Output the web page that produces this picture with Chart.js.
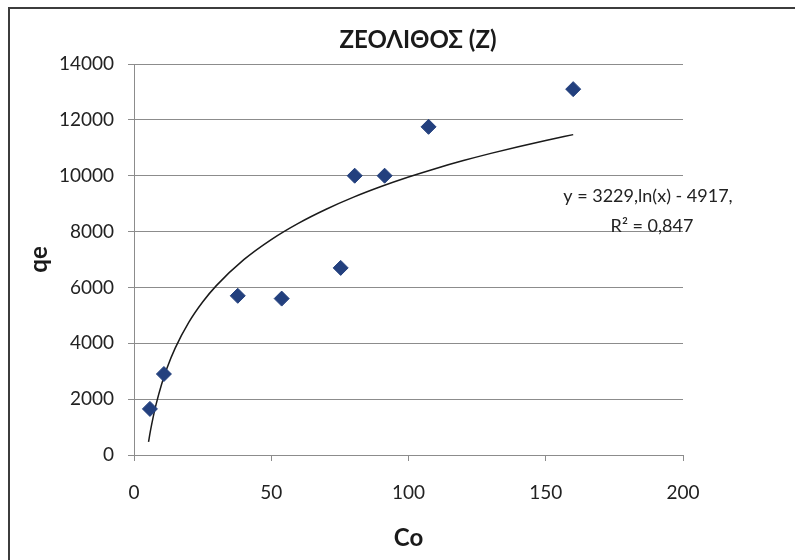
<!DOCTYPE html>
<html>
<head>
<meta charset="utf-8">
<script src="https://cdn.jsdelivr.net/npm/chart.js@4/dist/chart.umd.min.js"></script>
<style>
    html, body { margin: 0; padding: 0; background: #fff; }
    #wrap { width: 795px; height: 560px; position: relative; }
</style>
</head>
<body>
<div id="wrap"><canvas id="zeoChart"></canvas></div>
<script>
// μετρήσεις (Co, qe)
const coValues = [5.8, 10.9, 37.8, 53.8, 75.3, 80.4, 91.3, 107.3, 160];
const qeValues = [1650, 2900, 5700, 5600, 6700, 10000, 10000, 11750, 13100];

// γραμμή τάσης (σημεία όπως διαβάζονται στο γράφημα)
const trendX = [5.3, 6, 7, 8, 10, 12, 15, 20, 25, 30, 40, 50, 60, 70, 80, 90, 100, 110, 120, 130, 140, 150, 160];
const trendY = [468, 869, 1366, 1797, 2518, 3107, 3827, 4756, 5477, 6065, 6994, 7715, 8304, 8801, 9233, 9613, 9953, 10261, 10542, 10800, 11040, 11262, 11471];

const xTicks = [0, 50, 100, 150, 200];
const yTicks = [0, 2000, 4000, 6000, 8000, 10000, 12000, 14000];
const chartTitle = "ΖΕΟΛΙΘΟΣ (Ζ)";
const eqLines = ["y = 3229,ln(x) - 4917,", "R² = 0,847"];

const FONT = "Lato, 'Open Sans', sans-serif";

const toPoints = (xs, ys) => xs.map((x, i) => ({ x: x, y: ys[i] }));

// πλαίσιο, τίτλος και εξίσωση
const extras = {
    id: "extras",
    beforeDraw(chart) {
        const ctx = chart.ctx;
        ctx.save();
        ctx.fillStyle = "#fff";
        ctx.fillRect(0, 0, chart.width, chart.height);
        ctx.strokeStyle = "#3c3c3c";
        ctx.lineWidth = 2;
        ctx.beginPath();
        ctx.moveTo(9, chart.height);
        ctx.lineTo(9, 8);
        ctx.lineTo(chart.width, 8);
        ctx.stroke();
        ctx.restore();
    },
    afterDraw(chart) {
        const ctx = chart.ctx;
        ctx.save();
        ctx.fillStyle = "#1a1a1a";
        ctx.textAlign = "center";
        ctx.textBaseline = "middle";
        ctx.font = "bold 24px " + FONT;
        ctx.fillText(chartTitle, 418, 40);
        ctx.fillStyle = "#222";
        ctx.font = "18px " + FONT;
        ctx.fillText(eqLines[0], 648, 196);
        ctx.fillText(eqLines[1], 652, 226);
        ctx.restore();
    },
};

const el = document.getElementById("zeoChart");
new Chart(el, {
    type: "scatter",
    data: {
        datasets: [
            {
                label: "qe",
                data: toPoints(coValues, qeValues),
                pointStyle: "rectRot",
                pointRadius: 7.5,
                pointHoverRadius: 7.5,
                backgroundColor: "#23407e",
                borderColor: "#23407e",
                borderWidth: 1,
            },
            {
                label: "trend",
                type: "line",
                data: toPoints(trendX, trendY),
                showLine: true,
                pointRadius: 0,
                borderColor: "#1a1a1a",
                borderWidth: 1.5,
                cubicInterpolationMode: "monotone",
                fill: false,
            },
        ],
    },
    options: {
        responsive: true,
        maintainAspectRatio: false,
        animation: false,
        layout: { padding: { top: 64, right: 112, bottom: 0, left: 25 } },
        plugins: {
            legend: { display: false },
            tooltip: { enabled: false },
            title: { display: false },
        },
        scales: {
            x: {
                type: "linear",
                min: 0,
                max: 200,
                afterBuildTicks: (s) => { s.ticks = xTicks.map((v) => ({ value: v })); },
                afterFit: (s) => { s.height = 105; },
                ticks: {
                    color: "#222",
                    font: { family: FONT, size: 19 },
                    padding: 20,
                    callback: (v) => String(v),
                },
                grid: {
                    drawOnChartArea: false,
                    drawTicks: true,
                    tickLength: 6,
                    color: "#8c8c8c",
                },
                border: { display: true, color: "#8c8c8c" },
                title: {
                    display: true,
                    text: "Co",
                    color: "#1a1a1a",
                    font: { family: FONT, size: 24, weight: "bold" },
                    padding: { top: 4, bottom: 7 },
                },
            },
            y: {
                min: 0,
                max: 14000,
                afterBuildTicks: (s) => { s.ticks = yTicks.map((v) => ({ value: v })); },
                afterFit: (s) => { s.width = 109; },
                ticks: {
                    color: "#222",
                    font: { family: FONT, size: 19 },
                    padding: 14,
                    callback: (v) => String(v),
                },
                grid: {
                    color: "#8c8c8c",
                    tickLength: 6,
                },
                border: { display: true, color: "#8c8c8c" },
                title: {
                    display: true,
                    text: "qe",
                    color: "#1a1a1a",
                    font: { family: FONT, size: 24, weight: "bold" },
                    padding: 0,
                },
            },
        },
    },
    plugins: [extras],
});
</script>
</body>
</html>
